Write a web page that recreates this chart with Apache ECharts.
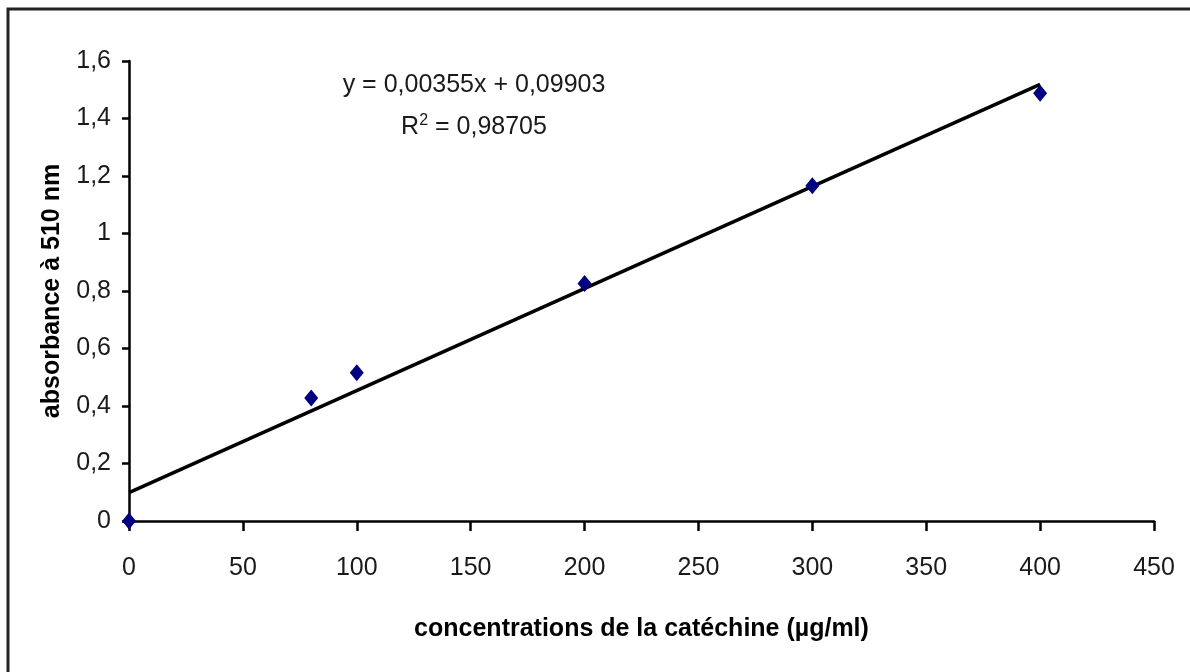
<!DOCTYPE html>
<html>
<head>
<meta charset="utf-8">
<script src="https://cdn.jsdelivr.net/npm/echarts@6/dist/echarts.min.js"></script>
<style>html,body{margin:0;padding:0;background:#fff}#c{width:1190px;height:672px}</style>
</head>
<body>
<div id="c"></div>
<script>
const concentrations = [0, 80, 100, 200, 300, 400];
const absorbance = [0, 0.428, 0.516, 0.826, 1.166, 1.488];
const trendX = [0, 400];
const trendY = [0.099, 1.519];
const yTicks = [0, 0.2, 0.4, 0.6, 0.8, 1, 1.2, 1.4, 1.6];
const xTicks = [0, 50, 100, 150, 200, 250, 300, 350, 400, 450];
const equationText = 'y = 0,00355x + 0,09903';
const r2Text = 'R{s|2} = 0,98705';
const xTitle = 'concentrations de la catéchine (µg/ml)';
const yTitle = 'absorbance à 510 nm';

const fnt = '"Liberation Sans", Arial, sans-serif';
const fmt = v => String(v).replace('.', ',');
const chart = echarts.init(document.getElementById('c'), null, {renderer: 'canvas'});
chart.setOption({
  animation: false,
  backgroundColor: '#fff',
  grid: {left: 129, right: 36, top: 61, bottom: 151},
  xAxis: {
    type: 'value', min: xTicks[0], max: xTicks[xTicks.length - 1], interval: 50,
    axisLine: {lineStyle: {color: '#000', width: 2.5}},
    axisTick: {show: true, length: 10, lineStyle: {color: '#000', width: 2.5}},
    axisLabel: {color: '#1a1a1a', fontSize: 25, fontFamily: fnt, margin: 35, formatter: fmt},
    splitLine: {show: false},
    name: xTitle, nameLocation: 'middle', nameGap: 96,
    nameTextStyle: {color: '#000', fontSize: 25, fontWeight: 'bold', fontFamily: fnt}
  },
  yAxis: {
    type: 'value', min: yTicks[0], max: yTicks[yTicks.length - 1], interval: 0.2,
    axisLine: {show: true, lineStyle: {color: '#000', width: 2.5}},
    axisTick: {show: true, length: 7, lineStyle: {color: '#000', width: 2.5}},
    axisLabel: {color: '#1a1a1a', fontSize: 25, fontFamily: fnt, margin: 18, formatter: v => fmt(+v.toFixed(1))},
    splitLine: {show: false},
    name: yTitle, nameLocation: 'middle', nameGap: 64, nameRotate: 90,
    nameTextStyle: {color: '#000', fontSize: 25, fontWeight: 'bold', fontFamily: fnt}
  },
  graphic: [
    {type: 'polyline', shape: {points: [[8, 700], [8, 9], [1200, 9]]}, style: {stroke: '#222', lineWidth: 3, fill: null}, z: 10},
    {type: 'text', x: 474, y: 85, style: {text: equationText, fontSize: 25, fontFamily: fnt, fill: '#1a1a1a', align: 'center', verticalAlign: 'middle'}},
    {type: 'text', x: 474, y: 127, style: {text: r2Text, fontSize: 25, fontFamily: fnt, fill: '#1a1a1a', align: 'center', verticalAlign: 'middle',
      rich: {s: {fontSize: 16, fontFamily: fnt, verticalAlign: 'top', padding: [0, 0, 12, 0], fill: '#1a1a1a'}}}}
  ],
  series: [
    {
      type: 'line', data: trendX.map((x, i) => [x, trendY[i]]),
      symbol: 'none', lineStyle: {color: '#000', width: 3.5}, z: 2
    },
    {
      type: 'scatter', data: concentrations.map((x, i) => [x, absorbance[i]]),
      symbol: 'diamond', symbolSize: [14, 17], itemStyle: {color: '#000080', opacity: 1}, z: 3
    }
  ]
});
</script>
</body>
</html>
